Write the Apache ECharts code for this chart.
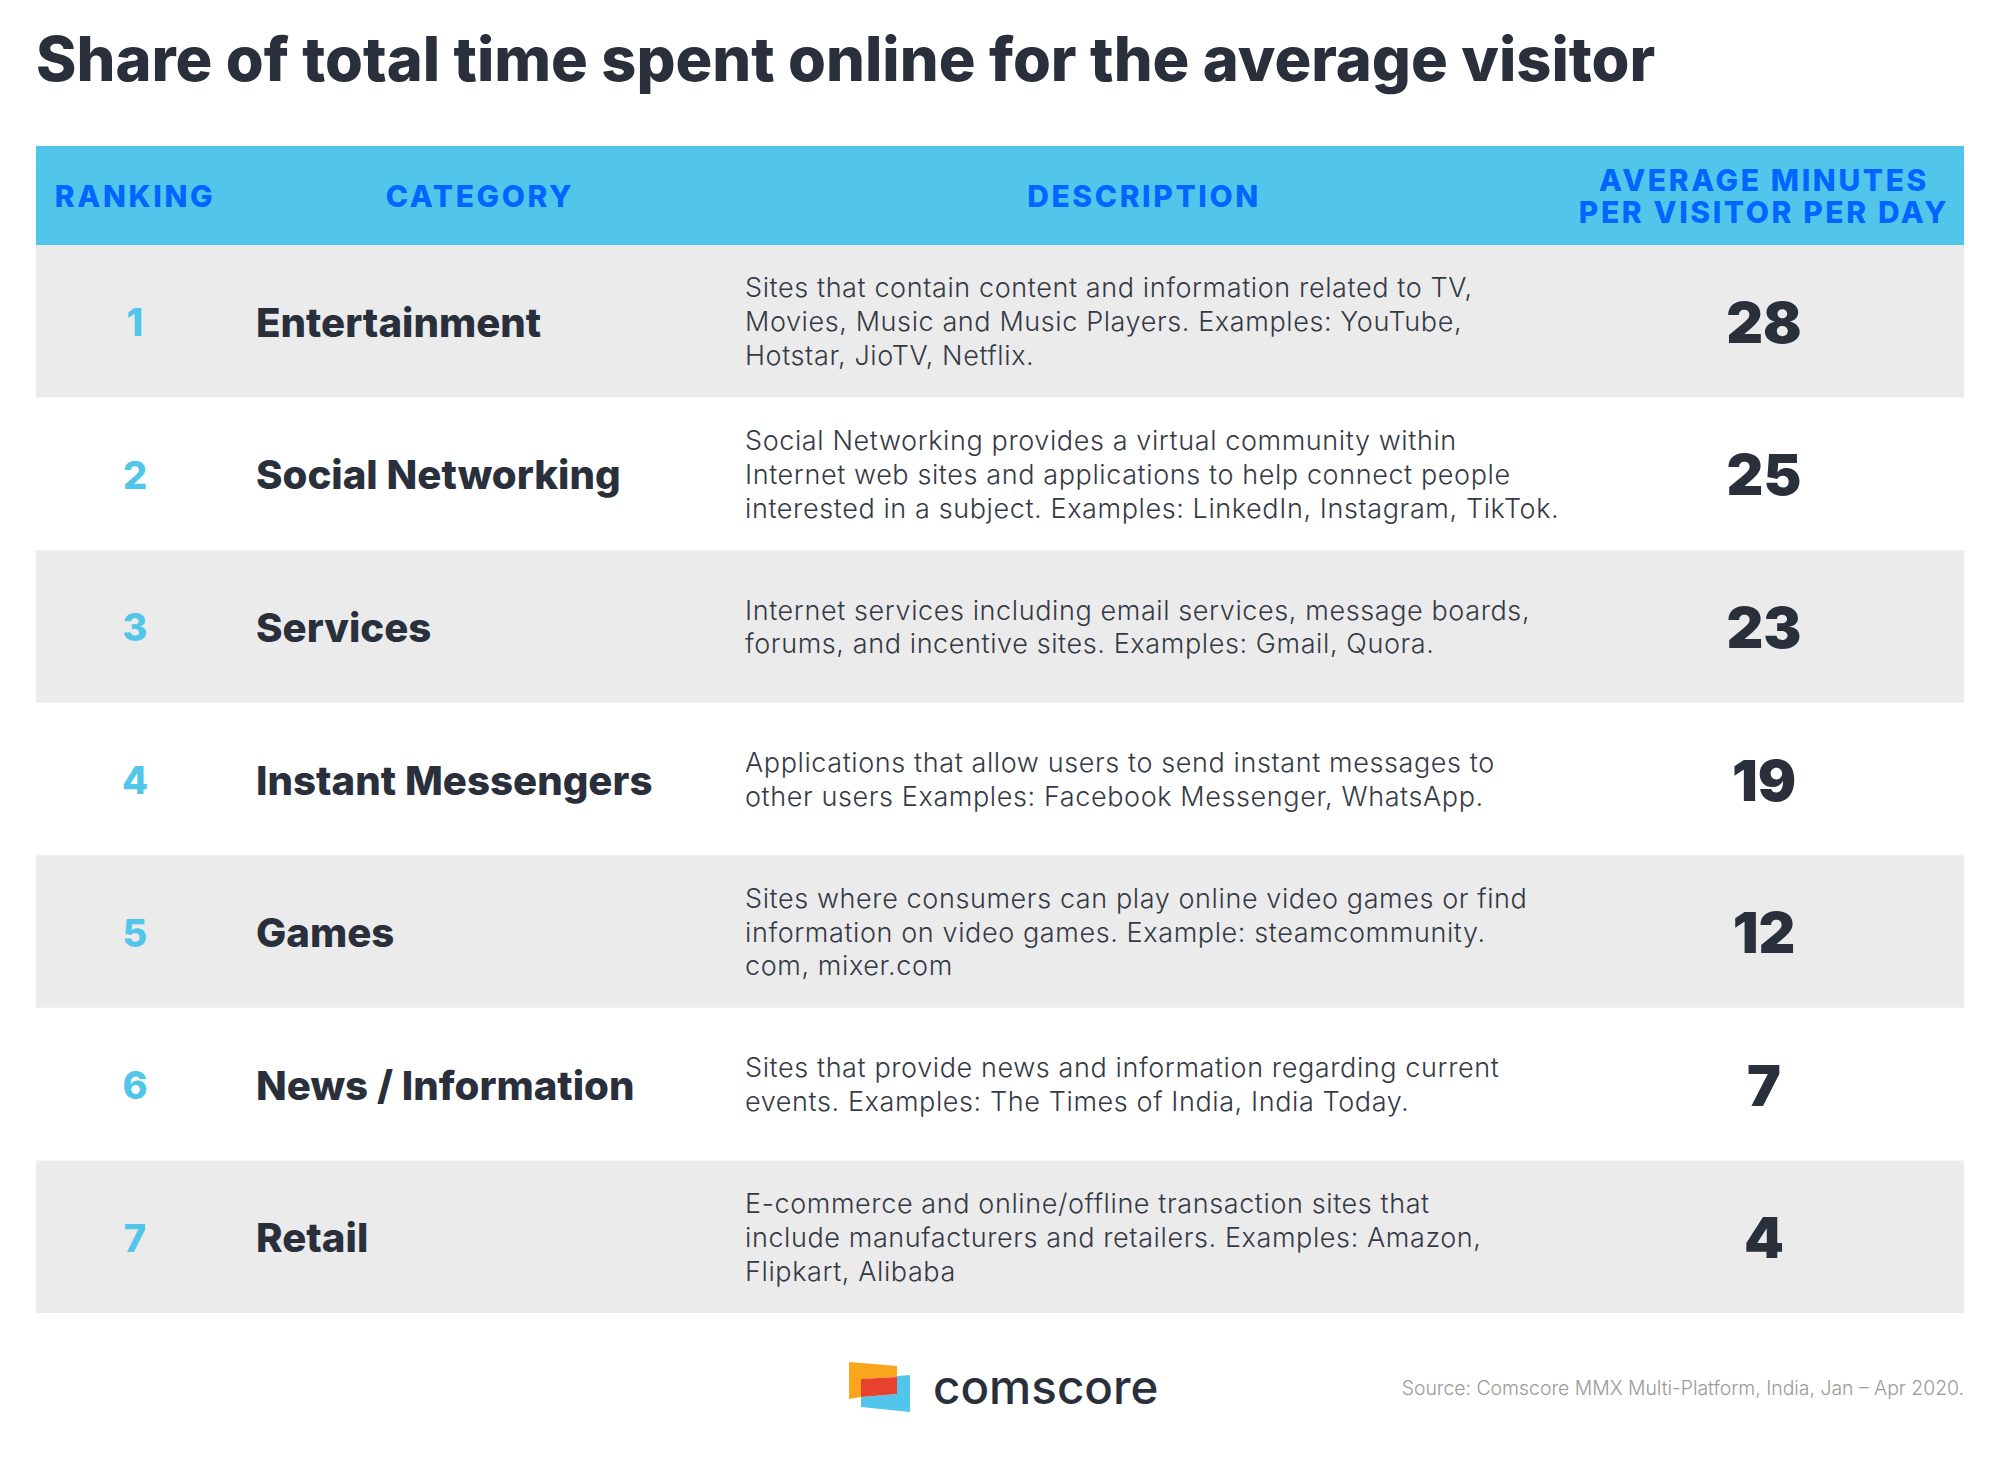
<!DOCTYPE html>
<html>
<head>
<meta charset="utf-8">
<title>Share of total time spent online</title>
<script src="https://cdn.jsdelivr.net/npm/echarts@6/dist/echarts.min.js"></script>
<style>
    html, body { margin: 0; padding: 0; background: #fff; }
    #chart { width: 2000px; height: 1463px; }
    /* zrender has no letter spacing option, so it is set by text colour */
    svg text[fill="#0066ff"] { letter-spacing: 2.6px; }
    svg text[fill="#343a45"] { letter-spacing: 0.6px; }
</style>
</head>
<body>
<div id="chart"></div>
<script>
const titleText = 'Share of total time spent online for the average visitor'
const sourceText = 'Source: Comscore MMX Multi-Platform, India, Jan \u2013 Apr 2020.'

const ranks = ['1', '2', '3', '4', '5', '6', '7']
const categories = ['Entertainment', 'Social Networking', 'Services', 'Instant Messengers', 'Games', 'News / Information', 'Retail']
const descriptions = [
    'Sites that contain content and information related to TV,\nMovies, Music and Music Players. Examples: YouTube,\nHotstar, JioTV, Netflix.',
    'Social Networking provides a virtual community within\nInternet web sites and applications to help connect people\ninterested in a subject. Examples: LinkedIn, Instagram, TikTok.',
    'Internet services including email services, message boards,\nforums, and incentive sites. Examples: Gmail, Quora.',
    'Applications that allow users to send instant messages to\nother users Examples: Facebook Messenger, WhatsApp.',
    'Sites where consumers can play online video games or find\ninformation on video games. Example: steamcommunity.\ncom, mixer.com',
    'Sites that provide news and information regarding current\nevents. Examples: The Times of India, India Today.',
    'E-commerce and online/offline transaction sites that\ninclude manufacturers and retailers. Examples: Amazon,\nFlipkart, Alibaba'
]
const minutes = [28, 25, 23, 19, 12, 7, 4]

const DARK = '#2a303b'
const SKY = '#52c6ea'
const BLUE = '#0066ff'
const BAND = '#ebebeb'
const FONT = 'Inter'

// column positions on the x axis, which runs over the page width
const TABLE_LEFT = 36
const TABLE_RIGHT = 1964
const RANK_X = 135
const CATEGORY_X = 256
const DESCRIPTION_X = 745
const MINUTES_X = 1764

const renderRow = (params, api) => {
    const i = params.dataIndex
    const y = api.coord([0, i])[1]
    const h = api.size([0, 1])[1]
    const x = (v) => api.coord([v, i])[0]
    const children = []
    // every other row has the grey band
    if (i % 2 === 0) {
        children.push({
            type: 'rect',
            shape: { x: x(TABLE_LEFT), y: y - h / 2, width: x(TABLE_RIGHT) - x(TABLE_LEFT), height: h },
            style: { fill: BAND }
        })
    }
    children.push({
        type: 'text',
        style: { x: x(RANK_X), y: y + 1, text: ranks[i], fill: SKY, align: 'center', verticalAlign: 'middle', font: '800 38px ' + FONT }
    }, {
        type: 'text',
        style: { x: x(CATEGORY_X), y: y + 1, text: categories[i], fill: DARK, align: 'left', verticalAlign: 'middle', font: '800 40.2px ' + FONT }
    }, {
        type: 'text',
        style: { x: x(DESCRIPTION_X), y: y + 0.5, text: descriptions[i], fill: '#343a45', align: 'left', verticalAlign: 'middle', font: '300 27px ' + FONT, lineHeight: 33.8 }
    }, {
        type: 'text',
        style: { x: x(MINUTES_X), y: y + 1, text: String(api.value(2)), fill: DARK, align: 'center', verticalAlign: 'middle', font: '900 57px ' + FONT }
    })
    return { type: 'group', children }
}

const headerLabel = (text, x, y) => ({
    type: 'text',
    style: { x, y, text, fill: BLUE, align: 'center', verticalAlign: 'middle', font: '800 30px ' + FONT }
})

const chart = echarts.init(document.getElementById('chart'), null, { renderer: 'svg' })
chart.setOption({
    animation: false,
    backgroundColor: '#fff',
    title: {
        text: titleText,
        left: 31,
        top: 23,
        textStyle: { fontFamily: FONT, fontWeight: 800, fontSize: 61.3, color: DARK }
    },
    grid: { left: 0, top: 245, width: 2000, height: 1068 },
    xAxis: { type: 'value', min: 0, max: 2000, show: false },
    yAxis: { type: 'category', inverse: true, data: ranks, show: false },
    series: [{
        type: 'custom',
        coordinateSystem: 'cartesian2d',
        data: minutes.map((m, i) => [MINUTES_X, ranks[i], m]),
        encode: { x: 0, y: 1 },
        renderItem: renderRow,
        silent: true
    }],
    graphic: [
        { type: 'rect', shape: { x: TABLE_LEFT, y: 146, width: TABLE_RIGHT - TABLE_LEFT, height: 99 }, style: { fill: SKY } },
        headerLabel('RANKING', RANK_X, 196),
        headerLabel('CATEGORY', 480, 196),
        headerLabel('DESCRIPTION', 1144, 196),
        headerLabel('AVERAGE MINUTES', MINUTES_X, 180),
        headerLabel('PER VISITOR PER DAY', MINUTES_X, 212),
        // logo
        { type: 'polygon', shape: { points: [[849, 1362], [897, 1366], [897, 1377], [861, 1379], [861, 1397], [849, 1399]] }, style: { fill: '#fba51c' } },
        { type: 'polygon', shape: { points: [[910, 1375], [910, 1412], [861, 1407], [861, 1397], [897, 1394], [897, 1376]] }, style: { fill: SKY } },
        { type: 'polygon', shape: { points: [[861, 1379], [897, 1377], [897, 1394], [861, 1397]] }, style: { fill: '#e8412f' } },
        { type: 'text', style: { x: 933, y: 1386, text: 'comscore', fill: DARK, align: 'left', verticalAlign: 'middle', font: '500 47.5px ' + FONT } },
        { type: 'text', style: { x: TABLE_RIGHT, y: 1388, text: sourceText, fill: '#9a9a9a', align: 'right', verticalAlign: 'middle', font: '300 19.4px ' + FONT } }
    ]
})
</script>
</body>
</html>
